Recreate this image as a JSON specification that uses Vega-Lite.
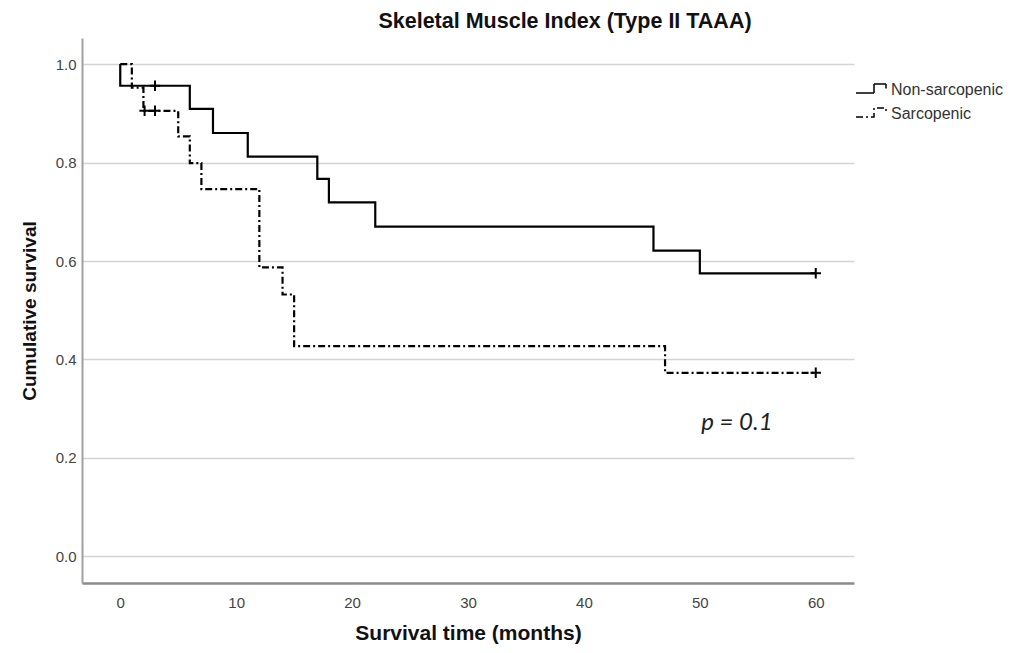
{
  "$schema": "https://vega.github.io/schema/vega-lite/v6.json",
  "width": 772,
  "height": 545,
  "autosize": {"type": "none"},
  "padding": {"left": 82, "top": 38, "right": 172, "bottom": 70},
  "background": "white",
  "config": {"view": {"stroke": null}, "font": "Liberation Sans"},
  "title": {
    "text": "Skeletal Muscle Index (Type II TAAA)",
    "fontSize": 21.5,
    "fontWeight": "bold",
    "font": "Liberation Sans",
    "color": "#111111",
    "anchor": "middle",
    "frame": "group",
    "dx": 97,
    "offset": 6
  },
  "datasets": {
    "curves": [
      {"group": "Non-sarcopenic", "i": 0, "t": 0, "s": 1.0},
      {"group": "Non-sarcopenic", "i": 1, "t": 0, "s": 0.956},
      {"group": "Non-sarcopenic", "i": 2, "t": 6, "s": 0.909},
      {"group": "Non-sarcopenic", "i": 3, "t": 8, "s": 0.860},
      {"group": "Non-sarcopenic", "i": 4, "t": 11, "s": 0.812},
      {"group": "Non-sarcopenic", "i": 5, "t": 17, "s": 0.767},
      {"group": "Non-sarcopenic", "i": 6, "t": 18, "s": 0.719},
      {"group": "Non-sarcopenic", "i": 7, "t": 22, "s": 0.670},
      {"group": "Non-sarcopenic", "i": 8, "t": 46, "s": 0.621},
      {"group": "Non-sarcopenic", "i": 9, "t": 50, "s": 0.575},
      {"group": "Non-sarcopenic", "i": 10, "t": 60, "s": 0.575},
      {"group": "Sarcopenic", "i": 0, "t": 0, "s": 1.0},
      {"group": "Sarcopenic", "i": 1, "t": 1, "s": 0.952},
      {"group": "Sarcopenic", "i": 2, "t": 2, "s": 0.905},
      {"group": "Sarcopenic", "i": 3, "t": 5, "s": 0.853},
      {"group": "Sarcopenic", "i": 4, "t": 6, "s": 0.799},
      {"group": "Sarcopenic", "i": 5, "t": 7, "s": 0.746},
      {"group": "Sarcopenic", "i": 6, "t": 12, "s": 0.587},
      {"group": "Sarcopenic", "i": 7, "t": 14, "s": 0.532},
      {"group": "Sarcopenic", "i": 8, "t": 15, "s": 0.427},
      {"group": "Sarcopenic", "i": 9, "t": 47, "s": 0.373},
      {"group": "Sarcopenic", "i": 10, "t": 60, "s": 0.373}
    ],
    "censored": [
      {"group": "Non-sarcopenic", "t": 3, "s": 0.956},
      {"group": "Non-sarcopenic", "t": 60, "s": 0.575},
      {"group": "Sarcopenic", "t": 2.1, "s": 0.905},
      {"group": "Sarcopenic", "t": 3, "s": 0.905},
      {"group": "Sarcopenic", "t": 60, "s": 0.373}
    ],
    "annot": [
      {"t": 53.2, "s": 0.257, "label": "p = 0.1"}
    ]
  },
  "encoding": {
    "x": {
      "field": "t",
      "type": "quantitative",
      "scale": {"domain": [-3.3, 63.3], "nice": false, "zero": false},
      "axis": {
        "values": [0, 10, 20, 30, 40, 50, 60],
        "grid": false,
        "ticks": false,
        "domainColor": "#8c8c8c",
        "domainWidth": 2.5,
        "labelFont": "Liberation Sans",
        "labelFontSize": 15,
        "labelColor": "#444444",
        "labelPadding": 12,
        "titleFont": "Liberation Sans",
        "titleFontSize": 21,
        "titleFontWeight": "bold",
        "titleColor": "#111111",
        "titlePadding": 12
      },
      "title": "Survival time (months)"
    },
    "y": {
      "field": "s",
      "type": "quantitative",
      "scale": {"domain": [-0.054, 1.053], "nice": false, "zero": false},
      "axis": {
        "values": [0, 0.2, 0.4, 0.6, 0.8, 1.0],
        "format": ".1f",
        "grid": true,
        "gridColor": "#d4d4d4",
        "gridWidth": 1.5,
        "ticks": false,
        "domainColor": "#a0a0a0",
        "domainWidth": 2,
        "labelFont": "Liberation Sans",
        "labelFontSize": 15,
        "labelColor": "#444444",
        "labelPadding": 6,
        "titleFont": "Liberation Sans",
        "titleFontSize": 19,
        "titleFontWeight": "bold",
        "titleColor": "#111111",
        "titlePadding": 16
      },
      "title": "Cumulative survival"
    }
  },
  "layer": [
    {
      "data": {"name": "curves"},
      "mark": {"type": "line", "interpolate": "step-after", "color": "black", "strokeWidth": 2.2},
      "encoding": {
        "strokeDash": {
          "field": "group",
          "type": "nominal",
          "scale": {"domain": ["Non-sarcopenic", "Sarcopenic"], "range": [[1, 0], [7, 3, 2, 3]]},
          "legend": {
            "title": null,
            "orient": "none",
            "legendX": 773,
            "legendY": 44,
            "padding": 0,
            "symbolType": "M-1,0.2H0.2V-0.4H1V-0.1",
            "symbolSize": 900,
            "symbolStrokeColor": "black",
            "symbolStrokeWidth": 1.5,
            "symbolFillColor": "transparent",
            "clipHeight": 16,
            "rowPadding": 8,
            "labelOffset": 4,
            "labelFont": "Liberation Sans",
            "labelFontSize": 16,
            "labelColor": "#333333"
          }
        },
        "order": {"field": "i", "type": "quantitative"}
      }
    },
    {
      "data": {"name": "censored"},
      "mark": {"type": "point", "shape": "M-1,0H1M0,-1V1", "size": 110, "stroke": "black", "strokeWidth": 2, "filled": false, "opacity": 1}
    },
    {
      "data": {"name": "annot"},
      "mark": {"type": "text", "font": "Lato", "fontStyle": "italic", "fontSize": 24, "color": "#222222", "align": "center", "baseline": "alphabetic"},
      "encoding": {"text": {"field": "label"}}
    }
  ]
}
